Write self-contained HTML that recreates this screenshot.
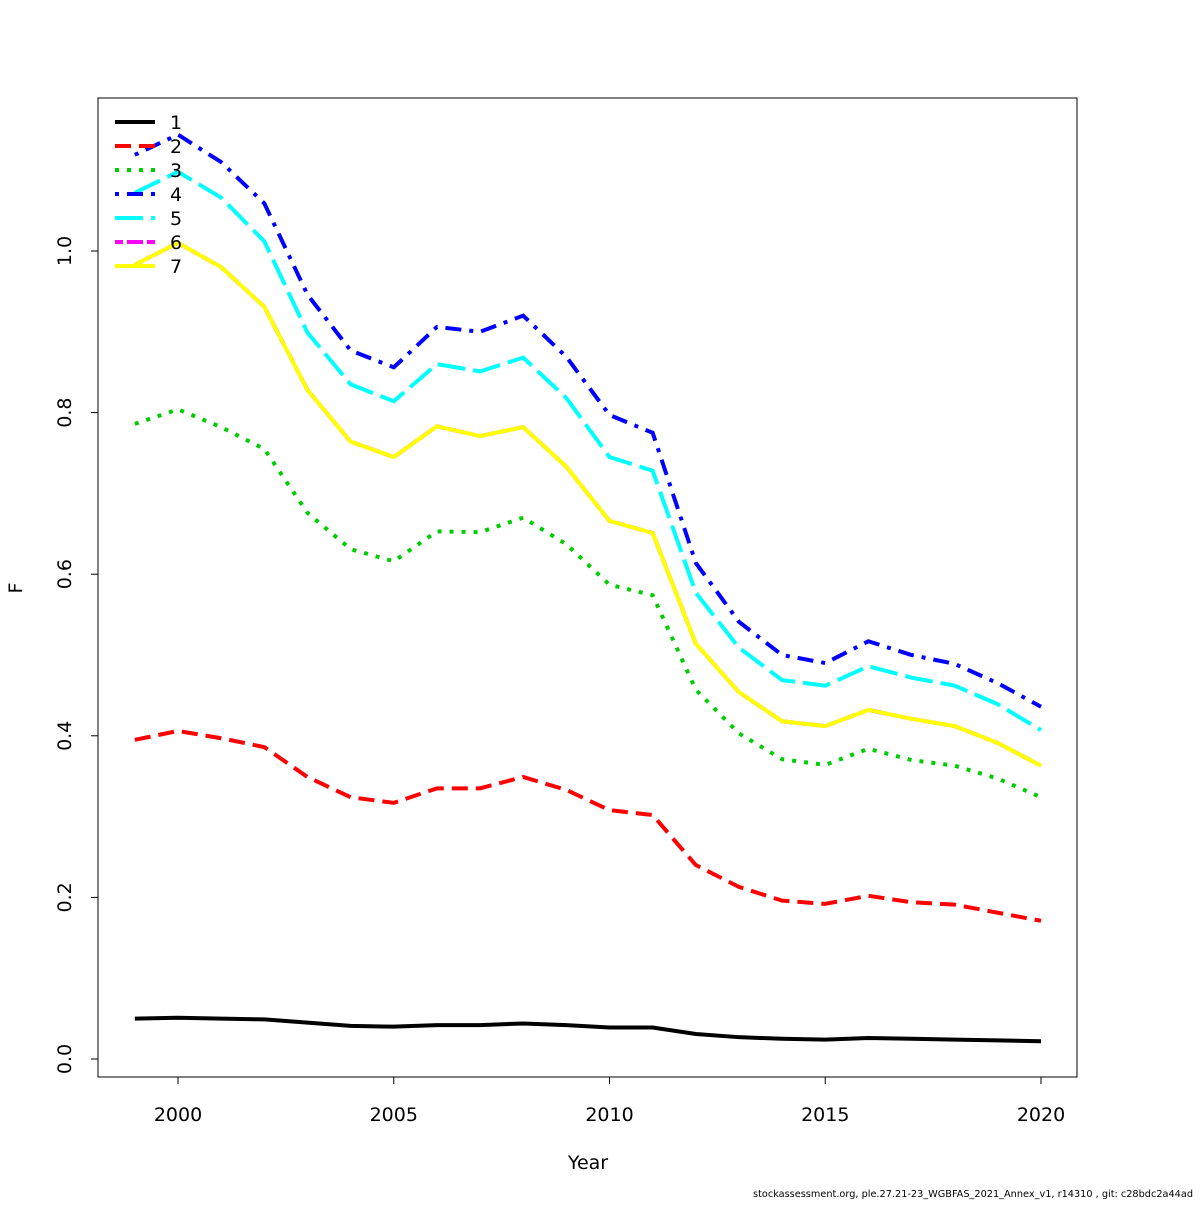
<!DOCTYPE html>
<html><head><meta charset="utf-8"><style>
body{margin:0;background:#fff}
svg text{font-family:"DejaVu Sans","Liberation Sans",sans-serif}
</style></head><body>
<svg id="chart" width="1200" height="1200" viewBox="0 0 1200 1200">
<rect x="98" y="98" width="979" height="979" fill="none" stroke="#000" stroke-width="1"/>
<g id="axes"></g>
<g id="series"></g>
<g id="legend"></g>
<text x="588" y="1169" font-size="19" text-anchor="middle">Year</text>
<text x="0" y="0" font-size="19" text-anchor="middle" transform="translate(22,588) rotate(-90)">F</text>
<text x="753" y="1197" font-size="10" textLength="440" lengthAdjust="spacingAndGlyphs">stockassessment.org, ple.27.21-23_WGBFAS_2021_Annex_v1, r14310 , git: c28bdc2a44ad</text>
</svg>
<script>
const years=[1999,2000,2001,2002,2003,2004,2005,2006,2007,2008,2009,2010,2011,2012,2013,2014,2015,2016,2017,2018,2019,2020];
const age1=[0.050,0.051,0.050,0.049,0.045,0.041,0.040,0.042,0.042,0.044,0.042,0.039,0.039,0.031,0.027,0.025,0.024,0.026,0.025,0.024,0.023,0.022];
const age2=[0.395,0.406,0.397,0.386,0.349,0.324,0.317,0.335,0.335,0.349,0.333,0.308,0.302,0.240,0.213,0.196,0.192,0.202,0.194,0.191,0.181,0.171];
const age3=[0.786,0.804,0.782,0.755,0.676,0.631,0.616,0.653,0.652,0.670,0.637,0.587,0.574,0.457,0.403,0.371,0.364,0.384,0.370,0.363,0.347,0.324];
const age4=[1.119,1.144,1.110,1.059,0.946,0.877,0.856,0.906,0.900,0.920,0.869,0.797,0.775,0.614,0.541,0.500,0.490,0.517,0.500,0.489,0.465,0.436];
const age5=[1.072,1.098,1.066,1.012,0.899,0.835,0.814,0.860,0.851,0.868,0.818,0.745,0.728,0.577,0.509,0.469,0.462,0.486,0.472,0.462,0.439,0.407];
const age6=[0.983,1.010,0.980,0.931,0.828,0.764,0.745,0.783,0.771,0.782,0.733,0.666,0.651,0.514,0.454,0.418,0.412,0.432,0.421,0.412,0.391,0.363];
const age7=[0.983,1.010,0.980,0.931,0.828,0.764,0.745,0.783,0.771,0.782,0.733,0.666,0.651,0.514,0.454,0.418,0.412,0.432,0.421,0.412,0.391,0.363];
const xTicks=[2000,2005,2010,2015,2020];
const yTicks=[0.0,0.2,0.4,0.6,0.8,1.0];
const seriesLabels=["1","2","3","4","5","6","7"];
const NS="http://www.w3.org/2000/svg";
const xs=v=>178+(v-2000)*43.15;
const ys=v=>1059-v*808;
function mk(t,a,p){const e=document.createElementNS(NS,t);for(const k in a)e.setAttribute(k,a[k]);p.appendChild(e);return e;}
const ax=document.getElementById('axes');
mk('line',{x1:xs(2000),x2:xs(2020),y1:1077,y2:1077,stroke:'#000'},ax);
xTicks.forEach(t=>{
  const l=mk('line',{x1:xs(t),x2:xs(t),y1:1077,y2:1084,stroke:'#000'},ax);
  
  
  const tx=mk('text',{x:xs(t),y:1121,'font-size':19,'text-anchor':'middle'},ax);tx.textContent=t;
  
  
});
mk('line',{x1:98,x2:98,y1:ys(0),y2:ys(1),stroke:'#000'},ax);
yTicks.forEach(t=>{
  const l=mk('line',{x1:91,x2:98,y1:ys(t),y2:ys(t),stroke:'#000'},ax);
  
  
  const tx=mk('text',{x:0,y:0,'font-size':19,'text-anchor':'middle',transform:`translate(71,${ys(t)}) rotate(-90)`},ax);tx.textContent=t.toFixed(1);
  
  
});
const data=[age1,age2,age3,age4,age5,age6,age7];
const cols=['#000','#ff0000','#00cd00','#0000ff','#00ffff','#ff00ff','#ffff00'];
const dashes=['none','16 8','4 8','4 8 16 8','28 8','8 4 16 4','none'];
const sg=document.getElementById('series');
data.forEach((d,i)=>{
  const p=mk('polyline',{points:d.map((v,j)=>xs(years[j])+','+ys(v)).join(' '),fill:'none',stroke:cols[i],'stroke-width':4,'stroke-dasharray':dashes[i]},sg);
  
  
});
const lg=document.getElementById('legend');
seriesLabels.forEach((s,i)=>{
  const y=122+i*24;
  const l=mk('line',{x1:115,x2:155,y1:y,y2:y,stroke:cols[i],'stroke-width':4,'stroke-dasharray':dashes[i]},lg);
  
  
  const t=mk('text',{x:170,y:y+7,'font-size':19},lg);t.textContent=s;
  
  
});
</script>
</body></html>
